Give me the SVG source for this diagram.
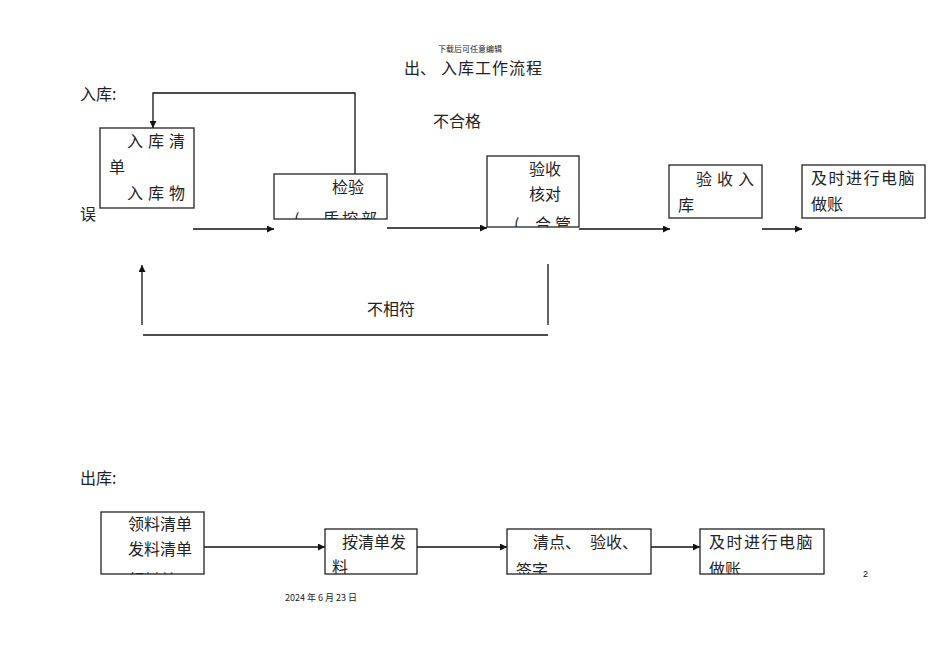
<svg xmlns="http://www.w3.org/2000/svg" width="950" height="672" viewBox="0 0 950 672">
<style>
.t{font-family:"Liberation Sans","Noto Sans CJK SC",sans-serif;fill:#111;}
.c{font-family:"Noto Sans CJK SC",sans-serif;fill:#222;font-size:16px;}
.box{fill:#fff;stroke:#222;stroke-width:1.3;}
.ln{fill:none;stroke:#111;stroke-width:1.3;}
</style>
<defs>
<marker id="ah" viewBox="0 0 10 10" refX="10" refY="5" markerWidth="8" markerHeight="7" markerUnits="userSpaceOnUse" orient="auto">
<path d="M0,0 L10,5 L0,10 z" fill="#111"/>
</marker>
<clipPath id="cb1"><rect x="100" y="128" width="94" height="80"/></clipPath>
<clipPath id="cb2"><rect x="274" y="174" width="113" height="45"/></clipPath>
<clipPath id="cb3"><rect x="487" y="156" width="92" height="71"/></clipPath>
<clipPath id="cb6"><rect x="101" y="512" width="103" height="62"/></clipPath>
<clipPath id="cb7"><rect x="325" y="529" width="92" height="45"/></clipPath>
<clipPath id="cb8"><rect x="507" y="529" width="144" height="45"/></clipPath>
<clipPath id="cb9"><rect x="700" y="529" width="124" height="45"/></clipPath>
</defs>
<rect width="950" height="672" fill="#fff"/>

<text class="c" x="438" y="52" style="font-size:8px">下载后可任意编辑</text>
<text class="c" x="404" y="74" style="font-size:16px">出、</text>
<text class="c" x="441" y="74" style="font-size:16px" letter-spacing="1">入库工作流程</text>
<text class="c" x="80" y="100">入库:</text>
<text class="c" x="80" y="220">误</text>
<text class="c" x="433" y="127">不合格</text>
<text class="c" x="367" y="315">不相符</text>
<text class="c" x="80" y="484">出库:</text>
<text class="t" x="863" y="577" style="font-size:9px">2</text>
<text class="c" x="285" y="601" style="font-size:9px">2024 年 6 月 23 日</text>

<g id="connectors">
<polyline class="ln" points="355,174 355,93 153,93 153,128" marker-end="url(#ah)"/>
<line class="ln" x1="193" y1="229" x2="274" y2="229" marker-end="url(#ah)"/>
<line class="ln" x1="387" y1="228" x2="487" y2="228" marker-end="url(#ah)"/>
<line class="ln" x1="579" y1="229" x2="670" y2="229" marker-end="url(#ah)"/>
<line class="ln" x1="762" y1="229" x2="802" y2="229" marker-end="url(#ah)"/>
<line class="ln" x1="548" y1="264" x2="548" y2="325"/>
<line class="ln" x1="143" y1="335" x2="548" y2="335"/>
<line class="ln" x1="142" y1="325" x2="142" y2="265" marker-end="url(#ah)"/>
<line class="ln" x1="204" y1="547" x2="325" y2="547" marker-end="url(#ah)"/>
<line class="ln" x1="417" y1="547" x2="507" y2="547" marker-end="url(#ah)"/>
<line class="ln" x1="651" y1="547" x2="700" y2="547" marker-end="url(#ah)"/>
</g>

<g id="n1">
<rect class="box" x="100" y="128" width="94" height="80"/>
<g clip-path="url(#cb1)">
<text class="c" x="127" y="147" letter-spacing="5">入库清</text>
<text class="c" x="109" y="173">单</text>
<text class="c" x="127" y="199" letter-spacing="5">入库物</text>
</g>
</g>

<g id="n2">
<rect class="box" x="274" y="174" width="113" height="45"/>
<g clip-path="url(#cb2)">
<text class="c" x="332" y="193">检验</text>
<text class="c" x="294" y="225">(</text>
<text class="c" x="323" y="225" letter-spacing="3">质控部</text>
</g>
</g>

<g id="n3">
<rect class="box" x="487" y="156" width="92" height="71"/>
<g clip-path="url(#cb3)">
<text class="c" x="529" y="175">验收</text>
<text class="c" x="529" y="200">核对</text>
<text class="c" x="514" y="230">(</text>
<text class="c" x="535" y="230" letter-spacing="4">合管</text>
</g>
</g>

<g id="n4">
<rect class="box" x="669" y="165" width="93" height="53"/>
<text class="c" x="696" y="185" letter-spacing="5">验收入</text>
<text class="c" x="678" y="211">库</text>
</g>

<g id="n5">
<rect class="box" x="802" y="165" width="123" height="53"/>
<text class="c" x="811" y="184" letter-spacing="1.5">及时进行电脑</text>
<text class="c" x="811" y="210">做账</text>
</g>

<g id="n6">
<rect class="box" x="101" y="512" width="103" height="62"/>
<g clip-path="url(#cb6)">
<text class="c" x="128" y="530">领料清单</text>
<text class="c" x="128" y="555">发料清单</text>
<text class="c" x="128" y="586">领料单</text>
</g>
</g>

<g id="n7">
<rect class="box" x="325" y="529" width="92" height="45"/>
<g clip-path="url(#cb7)">
<text class="c" x="342" y="548">按清单发</text>
<text class="c" x="332" y="573">料</text>
</g>
</g>

<g id="n8">
<rect class="box" x="507" y="529" width="144" height="45"/>
<g clip-path="url(#cb8)">
<text class="c" x="533" y="548">清点、</text>
<text class="c" x="590" y="548">验收、</text>
<text class="c" x="516" y="576">签字</text>
</g>
</g>

<g id="n9">
<rect class="box" x="700" y="529" width="124" height="45"/>
<g clip-path="url(#cb9)">
<text class="c" x="709" y="548" letter-spacing="1.5">及时进行电脑</text>
<text class="c" x="709" y="575">做账</text>
</g>
</g>
</svg>
